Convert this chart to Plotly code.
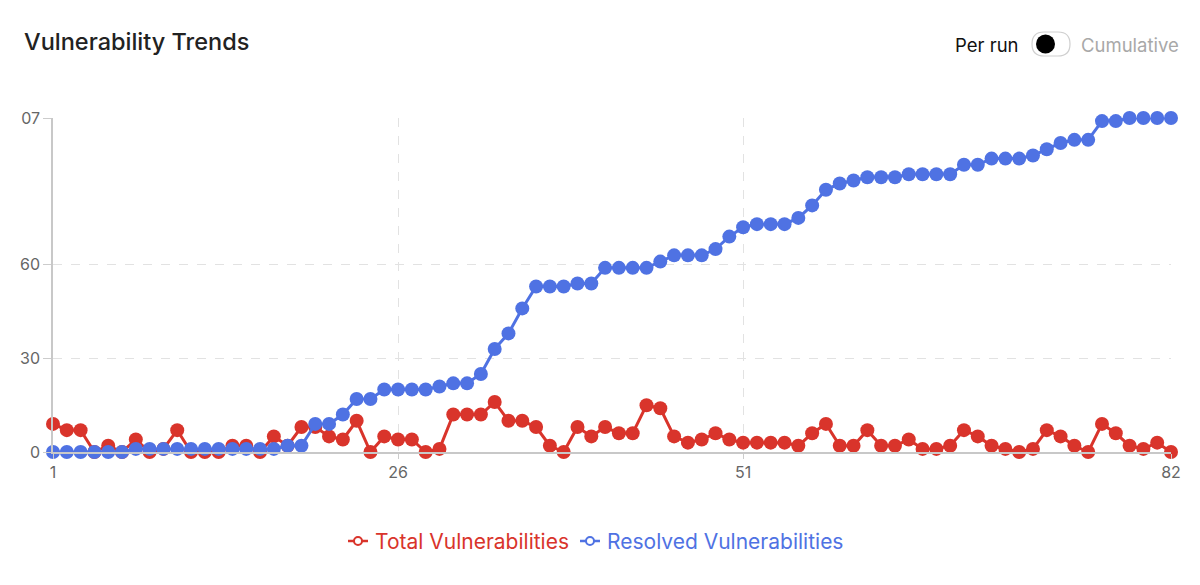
import plotly.graph_objects as go

runs = list(range(1, 83))

total_vulns = [9, 7, 7, 0, 2, 0, 4, 0, 1, 7,
               0, 0, 0, 2, 2, 0, 5, 2, 8, 8,
               5, 4, 10, 0, 5, 4, 4, 0, 1, 12,
               12, 12, 16, 10, 10, 8, 2, 0, 8, 5,
               8, 6, 6, 15, 14, 5, 3, 4, 6, 4,
               3, 3, 3, 3, 2, 6, 9, 2, 2, 7,
               2, 2, 4, 1, 1, 2, 7, 5, 2, 1,
               0, 1, 7, 5, 2, 0, 9, 6, 2, 1,
               3, 0]

resolved_vulns = [0, 0, 0, 0, 0, 0, 1, 1, 1, 1,
                  1, 1, 1, 1, 1, 1, 1, 2, 2, 9,
                  9, 12, 17, 17, 20, 20, 20, 20, 21, 22,
                  22, 25, 33, 38, 46, 53, 53, 53, 54, 54,
                  59, 59, 59, 59, 61, 63, 63, 63, 65, 69,
                  72, 73, 73, 73, 75, 79, 84, 86, 87, 88,
                  88, 88, 89, 89, 89, 89, 92, 92, 94, 94,
                  94, 95, 97, 99, 100, 100, 106, 106, 107, 107,
                  107, 107]

series_names = ["Total Vulnerabilities", "Resolved Vulnerabilities"]

x_tickvals = [1, 26, 51, 82]
x_ticktext = ["1", "26", "51", "82"]
y_tickvals = [0, 30, 60, 107]
y_ticktext = ["0", "30", "60", "07"]

RED = "#d9342b"
BLUE = "#4f72e3"
FONT = "Inter"

OFF = 8  # page body margin offset
W, H = 1200, 585
# target page-pixel positions of plot area
PL, PR, PT, PB = 53, 1171, 118, 452
ML = PL - OFF
MT = PT - OFF
PW, PH = PR - PL, PB - PT
MR = W - ML - PW
MB = H - MT - PH


def px(p):
    return (p - PL) / PW


def py(p):
    return (PB - p) / PH


fig = go.Figure()

for name, vals, col in [(series_names[0], total_vulns, RED),
                        (series_names[1], resolved_vulns, BLUE)]:
    fig.add_trace(go.Scatter(
        x=runs, y=vals, mode="lines+markers", name=name, showlegend=False,
        line=dict(color=col, width=3),
        marker=dict(color=col, size=14),
        cliponaxis=False,
    ))

fig.update_layout(
    width=W, height=H,
    margin=dict(l=ML, r=MR, t=MT, b=MB),
    paper_bgcolor="white", plot_bgcolor="white",
    font=dict(family=FONT, color="#666666", size=16),
    title=dict(text="Vulnerability Trends", xref="container", yref="container",
               x=(24 - OFF) / W, y=1 - (42 - OFF) / H, xanchor="left", yanchor="middle",
               font=dict(family=FONT, size=23.5, color="#222222", weight=500)),
    showlegend=False,
    xaxis=dict(range=[1, 82], tickvals=x_tickvals, ticktext=x_ticktext,
               showgrid=True, gridcolor="#e2e2e2", griddash="dash", gridwidth=1,
               showline=True, linecolor="#c8c8c8", linewidth=1.5,
               ticks="outside", ticklen=5, tickcolor="#cccccc",
               zeroline=False, tickfont=dict(size=16, color="#666666")),
    yaxis=dict(range=[0, 107], tickvals=y_tickvals, ticktext=y_ticktext,
               showgrid=True, gridcolor="#e2e2e2", griddash="dash", gridwidth=1,
               showline=True, linecolor="#c8c8c8", linewidth=1.5,
               ticks="outside", ticklen=8, tickcolor="#cccccc",
               zeroline=False, tickfont=dict(size=16, color="#666666")),
)

# custom legend
LEG_Y = 541
for name, col, sx in [(series_names[0], RED, 348), (series_names[1], BLUE, 580)]:
    fig.add_shape(type="line", xref="paper", yref="paper",
                  x0=px(sx), x1=px(sx + 20), y0=py(LEG_Y), y1=py(LEG_Y),
                  line=dict(color=col, width=2.5))
    fig.add_shape(type="circle", xref="paper", yref="paper",
                  x0=px(sx + 6), x1=px(sx + 14), y0=py(LEG_Y - 4), y1=py(LEG_Y + 4),
                  line=dict(color=col, width=2), fillcolor="white")
    fig.add_annotation(text=name, xref="paper", yref="paper", x=px(sx + 25), y=py(LEG_Y),
                       xanchor="left", yanchor="middle", showarrow=False,
                       font=dict(family=FONT, size=21, color=col))

# toggle: "Per run"  [switch]  "Cumulative"
fig.add_annotation(text="Per run", xref="paper", yref="paper", x=px(1021), y=py(45),
                   xanchor="right", yanchor="middle", showarrow=False,
                   font=dict(family=FONT, size=18.5, color="#111111"))
fig.add_annotation(text="Cumulative", xref="paper", yref="paper", x=px(1079), y=py(45),
                   xanchor="left", yanchor="middle", showarrow=False,
                   font=dict(family=FONT, size=18.5, color="#a8a8a8"))
fig.add_shape(type="path", xref="paper", yref="paper",
              path=(f"M {px(1044)},{py(32)} L {px(1058)},{py(32)} "
                    f"Q {px(1070)},{py(32)} {px(1070)},{py(44)} "
                    f"Q {px(1070)},{py(56)} {px(1058)},{py(56)} "
                    f"L {px(1044)},{py(56)} "
                    f"Q {px(1032)},{py(56)} {px(1032)},{py(44)} "
                    f"Q {px(1032)},{py(32)} {px(1044)},{py(32)} Z"),
              line=dict(color="#cfcfcf", width=1.2), fillcolor="white")
fig.add_shape(type="circle", xref="paper", yref="paper",
              x0=px(1036), x1=px(1055), y0=py(34.5), y1=py(53.5),
              line=dict(color="black", width=0), fillcolor="black")

fig.write_html("out.html")
